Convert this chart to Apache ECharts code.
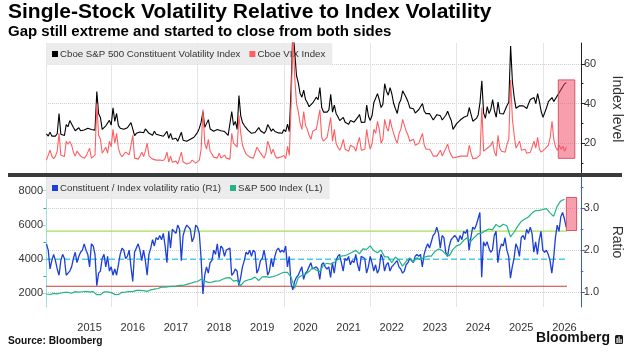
<!DOCTYPE html>
<html>
<head>
<meta charset="utf-8">
<script src="https://cdn.jsdelivr.net/npm/echarts@6/dist/echarts.min.js"></script>
<style>
    html, body { margin: 0; padding: 0; background: #fff; }
    #chart { width: 632px; height: 355px; }
</style>
</head>
<body>
<div id="chart"></div>
<script>
    // time runs as fractional years, one point on the 1st and the 16th of each month
    const X_MIN = 2014.49, X_MAX = 2026.88;

    const halfMonths = [];
    const months = [];
    for (let y = 2014; y <= 2026; y++) {
        for (let m = 0; m < 12; m++) {
            for (let h = 0; h < 2; h++) {
                const t = +(y + m / 12 + h / 24).toFixed(4);
                if (t < 2014.5 - 1e-6 || t > 2026.55) continue;
                halfMonths.push(t);
                if (h === 0 && t <= 2026.51) months.push(t);
            }
        }
    }

    // Cboe S&P 500 Constituent Volatility Index (black)
    const constituentVol = [
        24.7, 23.6, 25.6, 23.6, 23.2, 23.6, 24.8, 35, 24.5, 25.3, 23.9, 29.4,
        28.3, 31.4, 30.4, 27.9, 26.3, 27.2, 27.8, 26.3, 25.6, 26.7, 27, 27.6, 28, 26.9, 26.9, 26.6, 46, 34.8, 33, 27, 27.6, 28.8, 27.8, 31.5,
        29.1, 37.8, 31, 35, 28.9, 27.6, 27.1, 27, 27.9, 27.8, 28.4, 30.4, 30, 23.8, 25, 24, 25.7, 26.4, 25.3, 27.2, 28, 25, 24, 24,
        26, 24.5, 24, 24, 24.5, 23.5, 24.5, 26, 22.5, 25, 22, 21.5, 22.5, 21, 22, 25.5, 21.5, 21.5, 21, 21.5, 22, 23, 23, 22.5,
        25.5, 27.6, 30.6, 36, 28, 27.2, 31.9, 27.2, 27.1, 26, 26.6, 26.9, 27, 26.3, 25.6, 25.9, 25, 24, 24.6, 36, 29, 31, 27, 44,
        33.8, 30.4, 28.9, 28.3, 26.6, 26, 25, 25, 25.4, 26.1, 27.9, 26.3, 27, 25, 26.3, 29.4, 27.8, 26.1, 27.2, 25.9, 25, 25.2, 25.4, 25,
        26.9, 25.8, 29.6, 25.9, 48, 78, 66, 54, 50.4, 45, 43.2, 46.8, 42, 40.5, 38.4, 37.4, 40.3, 40.3, 43.2, 41.9, 48.1, 38, 35.7, 35.2,
        35.7, 36.8, 44.6, 35.7, 39.2, 35, 33.3, 31.4, 31.5, 33, 30.6, 31.5, 29.6, 31.4, 31.5, 30.6, 30.4, 33, 34.5, 30.5, 30.5, 30.6, 39.2, 33.6,
        31.5, 34, 40.5, 41.3, 45, 41.9, 38, 39.6, 50, 46.2, 44.2, 48, 44.8, 40, 37.4, 35, 40, 41.9, 46.4, 46.5, 42.9, 40.8, 37.8, 38.5,
        37.4, 35.2, 36.1, 37, 38, 40, 36.1, 34.9, 34.4, 34.9, 34.1, 31.7, 32.4, 34.4, 33.6, 33.8, 31.7, 32.2, 34.1, 36.1, 33.6, 31.5, 27, 26,
        29.9, 30.8, 31.7, 32.6, 33.1, 33.6, 33.8, 38, 34.5, 31.1, 31.3, 32.5, 34.4, 40.6, 51.5, 35.2, 32.6, 38.5, 34.9, 37.1, 42, 36.4, 33.1, 40.8,
        35, 34.4, 34.7, 35.7, 39, 40.7, 69, 51, 43, 37.6, 37.9, 38.9, 38, 38.8, 38.3, 37.5, 40, 42, 41, 43, 40, 45, 41, 36,
        33, 34, 38, 41, 42, 43, 41, 42, 44, 45, 47, 48, 50, 50.5
    ];

    // Cboe VIX Index (red)
    const vix = [
        11.5, 11.8, 16.5, 13.5, 12.2, 13.5, 16, 25, 14, 13.3, 13.3, 21,
        19.5, 20.9, 19, 15.5, 13.5, 16, 15, 13.5, 12.8, 12.4, 13.5, 14.5, 17.5, 12.5, 12.8, 14, 40, 24, 22, 15, 14.5, 18, 15, 21,
        18.2, 27, 20, 25, 17.5, 14.5, 13.2, 13.5, 15.5, 15, 14.2, 19, 24, 12.5, 12.5, 12, 13.5, 15.5, 13.3, 16, 20, 13.5, 13, 12,
        13, 11.5, 11.8, 11.5, 12, 11.3, 12.5, 15.5, 10.5, 13.5, 10.4, 10.5, 11, 9.5, 10.3, 15.5, 10.5, 10, 9.5, 10, 10.2, 11.5, 11.3, 10,
        10, 11.5, 17, 37, 20, 17, 22, 16, 15.5, 13, 14, 12.5, 15, 12.5, 12.5, 14, 12.5, 12, 12, 25, 20, 20, 18, 34,
        25, 19, 16.5, 14.5, 14, 13, 13.5, 12.5, 13, 18, 18, 15, 15, 12.5, 15, 21, 18.5, 14.5, 17, 14, 12.5, 12.3, 13, 12.5,
        13.8, 12.3, 18.5, 14, 40, 75, 53, 40, 36, 30, 27, 36, 29, 27, 24, 22, 26, 26, 27, 27, 37, 23, 21, 22,
        23, 23, 33, 21, 27, 20, 18, 16.5, 18.5, 22, 17, 18, 16, 19, 18, 18, 16, 20, 23, 16.5, 16.5, 17, 27, 21,
        17, 20, 27, 25, 31, 27, 20, 22, 32, 28, 26, 32, 28, 25, 22, 20, 25, 27, 32, 31, 26, 24, 21, 22,
        22, 19, 19, 20, 20, 25, 19, 17, 16, 17, 15.5, 13.5, 13.5, 13.5, 14, 16.5, 13.5, 14, 17.5, 19.5, 16, 14, 12.6, 12.3,
        13, 14, 13.5, 14.5, 13.5, 14, 13.5, 19, 15, 12.2, 12.5, 12.5, 12.5, 14, 38, 16, 15.5, 17.5, 17, 19, 21, 15.5, 13.5, 24,
        17.5, 16, 16.5, 15.5, 19.5, 22, 52, 32, 24, 17.5, 18.5, 21, 16.5, 16.5, 17, 15, 16, 15.5, 16.5, 21, 17.5, 23, 17, 15.5,
        16.5, 17, 18, 19, 23, 31, 22, 18, 16.5, 19, 17, 18.5, 16, 18
    ];

    // Constituent / Index volatility ratio (blue, right axis)
    const volRatio = [
        2.15, 2.0, 1.55, 1.75, 1.9, 1.75, 1.55, 1.4, 1.75, 1.9, 1.8, 1.4,
        1.45, 1.5, 1.6, 1.8, 1.95, 1.7, 1.85, 1.95, 2.0, 2.15, 2.0, 1.9, 1.6, 2.15, 2.1, 1.9, 1.15, 1.45, 1.5, 1.8, 1.9, 1.6, 1.85, 1.5,
        1.6, 1.4, 1.55, 1.4, 1.65, 1.9, 2.05, 2.0, 1.8, 1.85, 2.0, 1.6, 1.25, 1.95, 2.05, 2.15, 2.0, 1.75, 2.0, 1.75, 1.4, 1.9, 2.05, 2.25,
        2.1, 2.3, 2.25, 2.35, 2.25, 2.4, 2.1, 1.7, 2.45, 2.05, 2.5, 2.45, 2.4, 2.6, 2.5, 1.75, 2.35, 2.5, 2.6, 2.55, 2.5, 2.2, 2.3, 2.6,
        2.55, 2.4, 1.8, 0.95, 1.4, 1.6, 1.45, 1.7, 1.75, 2.0, 1.9, 2.15, 1.8, 2.1, 2.05, 1.85, 2.0, 2.0, 2.05, 1.4, 1.45, 1.55, 1.5, 1.15,
        1.35, 1.6, 1.75, 1.95, 1.9, 2.0, 1.85, 2.0, 1.95, 1.45, 1.55, 1.75, 1.8, 2.0, 1.75, 1.4, 1.5, 1.8, 1.6, 1.85, 2.0, 2.05, 1.95, 2.0,
        1.95, 2.1, 1.6, 1.85, 1.2, 1.05, 1.25, 1.35, 1.4, 1.5, 1.6, 1.3, 1.45, 1.5, 1.6, 1.7, 1.55, 1.55, 1.6, 1.55, 1.3, 1.65, 1.7, 1.6,
        1.55, 1.6, 1.35, 1.7, 1.45, 1.75, 1.85, 1.9, 1.7, 1.5, 1.8, 1.75, 1.85, 1.65, 1.75, 1.7, 1.9, 1.65, 1.5, 1.85, 1.85, 1.8, 1.45, 1.6,
        1.85, 1.7, 1.5, 1.65, 1.45, 1.55, 1.9, 1.8, 1.5, 1.65, 1.7, 1.5, 1.6, 1.6, 1.7, 1.75, 1.6, 1.55, 1.45, 1.5, 1.65, 1.7, 1.8, 1.75,
        1.7, 1.85, 1.9, 1.85, 1.9, 1.6, 1.9, 2.05, 2.15, 2.05, 2.2, 2.35, 2.4, 2.55, 2.4, 2.05, 2.35, 2.3, 1.95, 1.85, 2.1, 2.25, 2.3, 2.35,
        2.3, 2.2, 2.35, 2.25, 2.45, 2.4, 2.5, 2.0, 2.3, 2.55, 2.5, 2.6, 2.75, 2.9, 1.35, 2.2, 2.1, 2.2, 2.05, 1.95, 2.0, 2.35, 2.45, 1.7,
        2.0, 2.15, 2.1, 2.3, 2.0, 1.85, 1.33, 1.6, 1.8, 2.15, 2.05, 1.85, 2.3, 2.35, 2.25, 2.5, 2.4, 2.55, 2.4, 1.95, 2.2, 1.9, 2.25, 2.45,
        2.0, 1.95, 2.0, 1.9, 1.75, 1.45, 1.8, 2.3, 2.6, 2.45, 2.8, 2.9, 2.75, 2.55
    ];

    // S&P 500 Index, monthly (green, left axis)
    const spx = [
        1960, 1930, 2000, 1970, 2020, 2060,
        2060, 2000, 2100, 2070, 2090, 2110, 2080, 2100, 1920, 1920, 2080, 2080,
        2040, 1940, 1930, 2060, 2070, 2100, 2100, 2170, 2170, 2160, 2110, 2200,
        2240, 2280, 2360, 2360, 2390, 2410, 2420, 2470, 2470, 2520, 2580, 2650,
        2690, 2820, 2710, 2640, 2650, 2710, 2720, 2820, 2900, 2920, 2710, 2760,
        2450, 2700, 2780, 2830, 2950, 2750, 2960, 2980, 2930, 2980, 3040, 3140,
        3230, 3230, 2950, 2300, 2910, 3040, 3110, 3270, 3500, 3360, 3270, 3660,
        3760, 3710, 3810, 3970, 4180, 4200, 4300, 4400, 4520, 4310, 4600, 4570,
        4770, 4500, 4370, 4530, 4130, 4130, 3790, 4120, 3950, 3590, 3870, 4070,
        3840, 4080, 3970, 4110, 4170, 4180, 4450, 4590, 4510, 4290, 4190, 4570,
        4770, 4850, 5100, 5250, 5030, 5280, 5480, 5520, 5650, 5760, 5710, 6030,
        5880, 6040, 5950, 5300, 5570, 5910, 6200, 6340, 6460, 6690, 6840, 6850,
        6900, 6950, 6700, 6500, 7100, 7400, 7500
    ];

    // ratio reference levels (upper band, mean, lower band)
    const refX = [X_MIN, 2026.56];
    const upperBand = [2.455, 2.455];
    const meanLevel = [1.78, 1.78];
    const lowerBand = [1.137, 1.137];

    // highlighted recent window: [x0, x1, y0, y1]
    const topBox = [2026.354, 2026.737, 12.4, 51.9];
    const bottomBox = [2026.545, 2026.783, 2.47, 3.26];

    // axis marks
    const gridYears = [2016, 2018, 2020, 2022, 2024, 2026];
    const yearLabels = [2015.5, 2016.5, 2017.5, 2018.5, 2019.5, 2020.5, 2021.5, 2022.5, 2023.5, 2024.5, 2025.5, 2026.5];
    const levelTicks = [20, 40, 60], levelMinor = [10, 30, 50];
    const spxTicks = [2000, 4000, 6000, 8000], spxMinor = [3000, 5000, 7000];
    const ratioTicks = [1, 2, 3], ratioMinor = [1.5, 2.5, 3.5];

    const FONT = '"Liberation Sans", Arial, sans-serif';
    const pair = (xs, ys) => ys.map((v, i) => [xs[i], v]);

    const boxItem = (fill, stroke) => (params, api) => {
        let a = api.coord([api.value(0), api.value(3)]);
        let b = api.coord([api.value(1), api.value(2)]);
        return {
            type: 'rect',
            shape: {x: a[0], y: a[1], width: b[0] - a[0], height: b[1] - a[1]},
            style: {fill, stroke, lineWidth: 1}
        };
    };

    const lineSeries = (name, x, y, data, color, width, extra) => Object.assign({
        name, type: 'line', xAxisIndex: x, yAxisIndex: y, data,
        symbol: 'none', showSymbol: false, silent: true,
        lineStyle: {color, width}, itemStyle: {color}
    }, extra || {});

    const yBase = (grid, pos, min, max, ticks, color, fmt) => ({
        type: 'value', gridIndex: grid, position: pos, min, max,
        axisLine: {show: true, lineStyle: {color, width: 1}},
        axisTick: {show: true, customValues: ticks, length: 4, lineStyle: {color}},
        axisLabel: {customValues: ticks, margin: 3, color: '#333', fontSize: 11, fontFamily: FONT,
            formatter: fmt || (v => String(v))},
        splitLine: {show: false}
    });
    const yMinor = (grid, pos, min, max, ticks, color) => ({
        type: 'value', gridIndex: grid, position: pos, min, max,
        axisLine: {show: false},
        axisTick: {show: true, customValues: ticks, length: 2.5, lineStyle: {color}},
        axisLabel: {show: false},
        splitLine: {show: false}
    });

    const legendBase = {
        left: 46, icon: 'rect', itemWidth: 6, itemHeight: 6, itemGap: 9,
        padding: [6, 7, 6, 6], backgroundColor: 'rgba(233,233,233,0.85)',
        selectedMode: false, z: 1,
        textStyle: {fontSize: 9.7, color: '#333', fontFamily: FONT, padding: [0, 0, 0, -3]}
    };

    let option = {
        animation: false,
        backgroundColor: '#fff',
        title: [
            {text: 'Single-Stock Volatility Relative to Index Volatility', left: 8, top: 2, padding: 0,
                textStyle: {fontFamily: FONT, fontWeight: 'bold', fontSize: 21, color: '#000'}},
            {text: 'Gap still extreme and started to close from both sides', left: 8, top: 24, padding: 0,
                textStyle: {fontFamily: FONT, fontWeight: 'bold', fontSize: 15, color: '#000'}},
            {text: 'Source: Bloomberg', left: 8, top: 336, padding: 0,
                textStyle: {fontFamily: FONT, fontWeight: 'bold', fontSize: 10.2, color: '#111'}},
            {text: 'Bloomberg', right: 22, top: 331, padding: 0,
                textStyle: {fontFamily: '"Liberation Sans Narrow", ' + FONT, fontWeight: 'bold', fontSize: 14, color: '#111'}}
        ],
        legend: [
            Object.assign({}, legendBase, {top: 43, data: ['Cboe S&P 500 Constituent Volatility Index', 'Cboe VIX Index']}),
            Object.assign({}, legendBase, {top: 177, data: ['Constituent / Index volatility ratio (R1)', 'S&P 500 Index (L1)']})
        ],
        graphic: [
            {type: 'rect', left: 8, top: 173, shape: {width: 614, height: 4}, style: {fill: '#3a3a3a'}, z: 10},
            {type: 'group', left: 615, top: 335, z: 10, children: [
                {type: 'rect', shape: {x: 0, y: 0, width: 8, height: 9, r: 1.5}, style: {fill: '#1a1a1a'}},
                {type: 'rect', shape: {x: 1.5, y: 3, width: 1.2, height: 5}, style: {fill: '#fff'}},
                {type: 'rect', shape: {x: 3.5, y: 1.5, width: 1.2, height: 6.5}, style: {fill: '#fff'}},
                {type: 'rect', shape: {x: 5.5, y: 4, width: 1.2, height: 4}, style: {fill: '#fff'}}
            ]}
        ],
        grid: [
            {left: 46, right: 45, top: 43, height: 132},
            {left: 46, right: 45, top: 177, height: 130}
        ],
        xAxis: [
            {type: 'value', gridIndex: 0, min: X_MIN, max: X_MAX,
                axisLine: {show: false}, axisTick: {show: false, customValues: [X_MIN].concat(gridYears)},
                axisLabel: {show: false},
                splitLine: {show: true, lineStyle: {color: '#e4e4e4', width: 1}}},
            {type: 'value', gridIndex: 1, min: X_MIN, max: X_MAX,
                axisLine: {show: false}, axisTick: {show: false, customValues: gridYears},
                axisLabel: {customValues: yearLabels, formatter: v => String(Math.floor(v)), margin: 15,
                    color: '#333', fontSize: 11, fontFamily: FONT},
                splitLine: {show: true, lineStyle: {color: '#e4e4e4', width: 1}}}
        ],
        yAxis: [
            Object.assign(yBase(0, 'right', 4, 70.5, levelTicks, '#222'), {
                name: 'Index level', nameLocation: 'middle', nameRotate: -90, nameGap: 29,
                nameTextStyle: {fontSize: 14, color: '#333', fontFamily: FONT},
                splitLine: {show: true, lineStyle: {color: '#cfcfcf', type: 'dotted'}}
            }),
            yMinor(0, 'right', 4, 70.5, levelMinor, '#222'),
            yBase(1, 'left', 1200, 8800, spxTicks, '#9fdede'),
            yMinor(1, 'left', 1200, 8800, spxMinor, '#2aa884'),
            Object.assign(yBase(1, 'right', 0.64, 3.75, ratioTicks, '#3a5bd0', v => v.toFixed(1)), {
                name: 'Ratio', nameLocation: 'middle', nameRotate: -90, nameGap: 29,
                nameTextStyle: {fontSize: 14, color: '#333', fontFamily: FONT},
                splitLine: {show: true, lineStyle: {color: '#cfcfcf', type: 'dotted'}}
            }),
            yMinor(1, 'right', 0.64, 3.75, ratioMinor, '#3a5bd0')
        ],
        series: [
            lineSeries('Cboe S&P 500 Constituent Volatility Index', 0, 0, pair(halfMonths, constituentVol), '#000', 1.1),
            lineSeries('Cboe VIX Index', 0, 0, pair(halfMonths, vix), '#ff5f63', 1.1),
            lineSeries('upper', 1, 4, pair(refX, upperBand), '#a3df55', 1.2),
            lineSeries('mean', 1, 4, pair(refX, meanLevel), '#4cc9ee', 1.5, {lineStyle: {color: '#4cc9ee', width: 1.5, type: [6, 3]}}),
            lineSeries('lower', 1, 4, pair(refX, lowerBand), '#c6403c', 1.2),
            lineSeries('Constituent / Index volatility ratio (R1)', 1, 4, pair(halfMonths, volRatio), '#1b3fd8', 1.3),
            lineSeries('S&P 500 Index (L1)', 1, 2, pair(months, spx), '#22b488', 1.2),
            {type: 'custom', xAxisIndex: 0, yAxisIndex: 0, z: 5, silent: true,
                encode: {x: [0, 1], y: [2, 3]}, data: [topBox],
                renderItem: boxItem('rgba(240,80,106,0.55)', '#d9546a')},
            {type: 'custom', xAxisIndex: 1, yAxisIndex: 4, z: 5, silent: true,
                encode: {x: [0, 1], y: [2, 3]}, data: [bottomBox],
                renderItem: boxItem('rgba(240,80,106,0.55)', '#d9546a')}
        ]
    };

    let chart = echarts.init(document.getElementById('chart'));
    chart.setOption(option);
</script>
</body>
</html>
